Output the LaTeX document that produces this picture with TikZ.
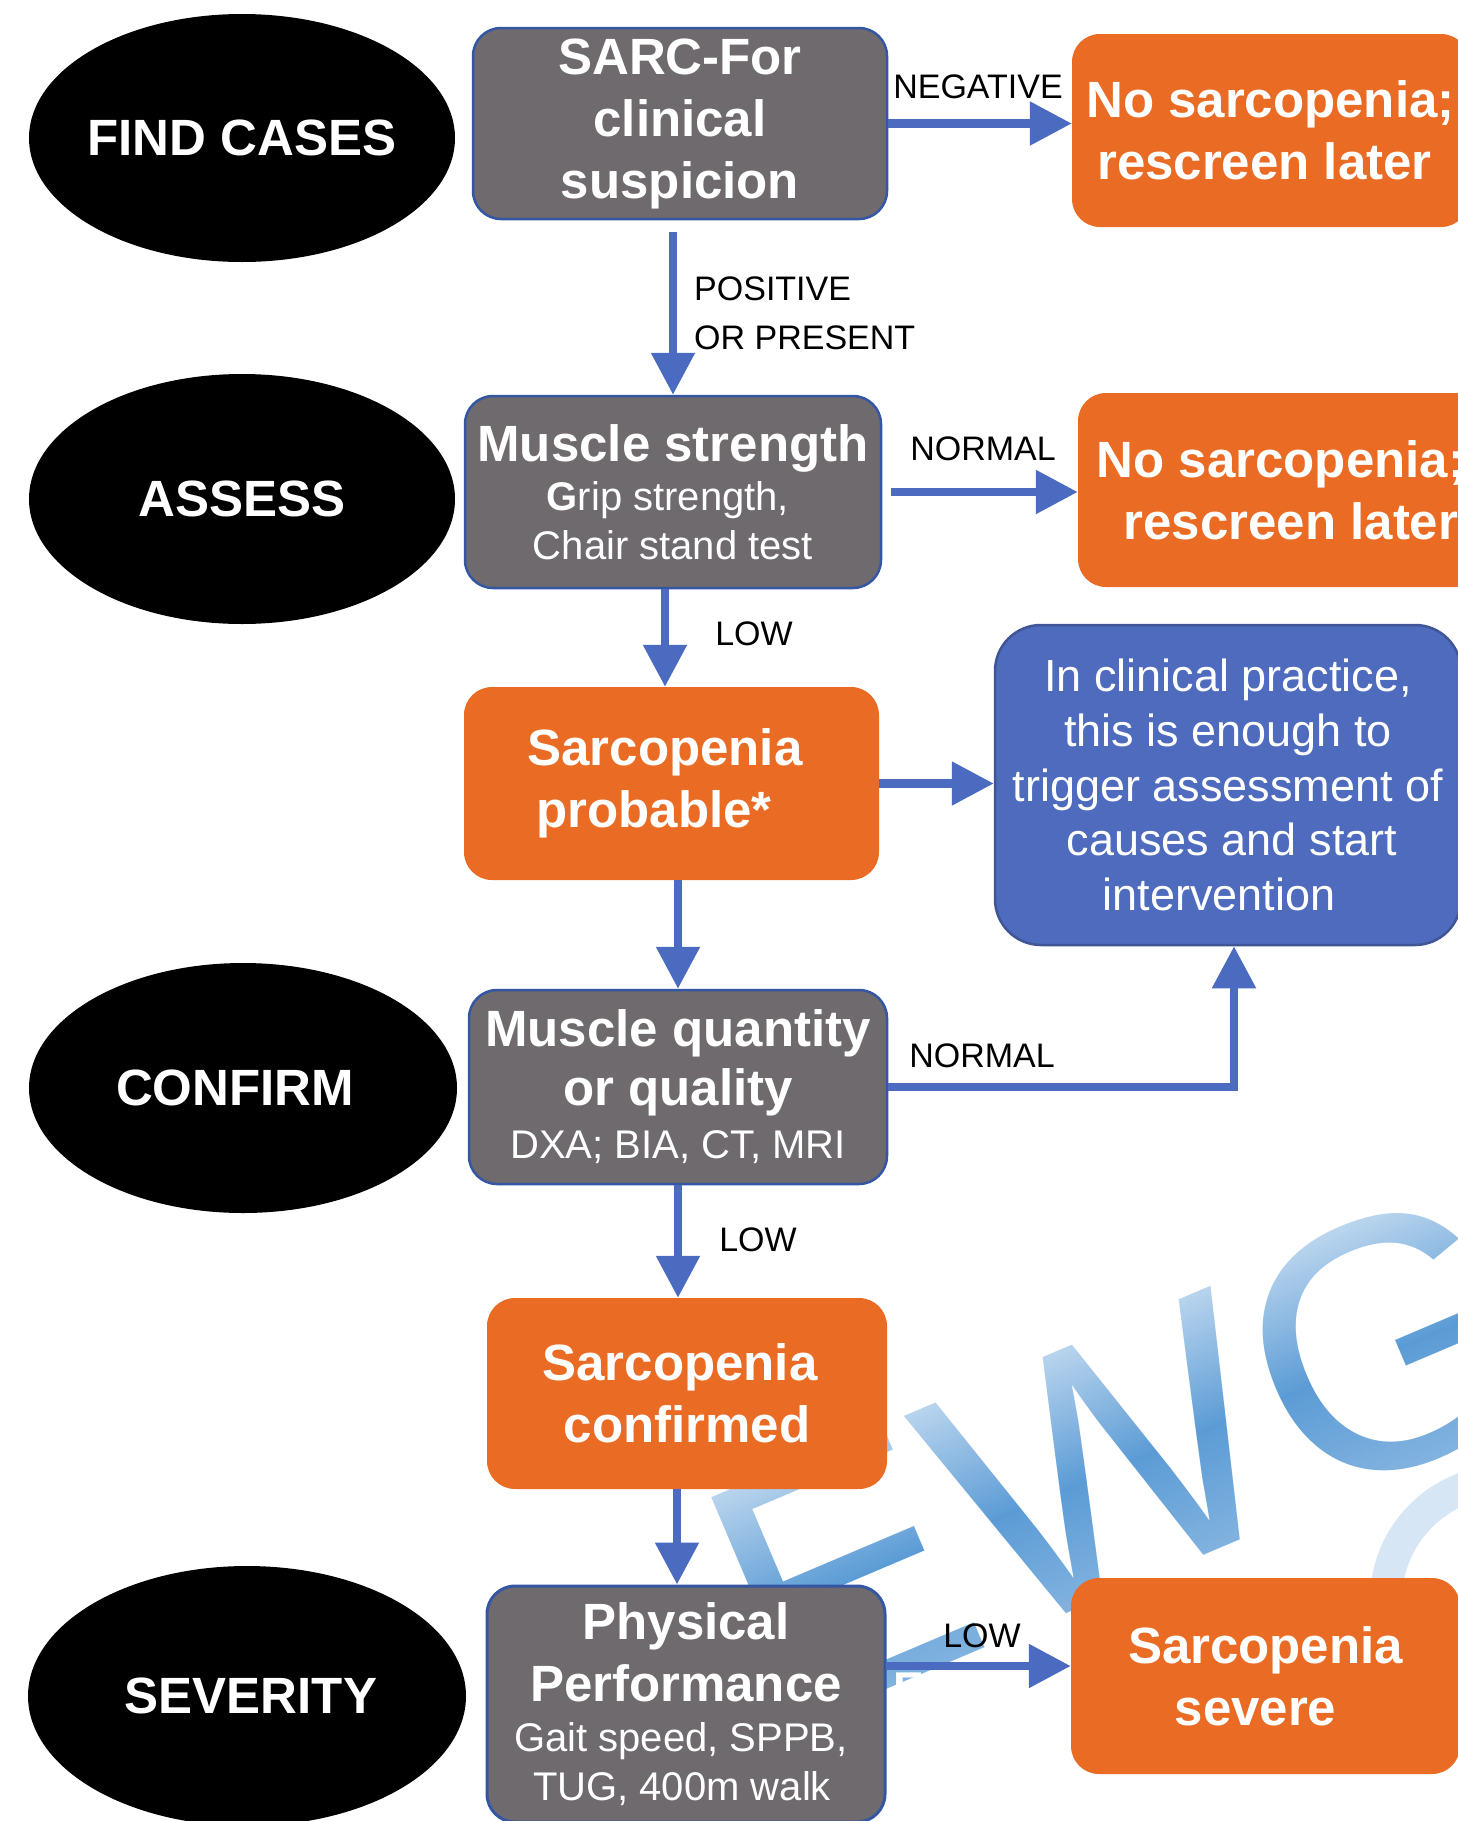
\documentclass[tikz,border=0pt]{standalone}
\usepackage{fontspec}
\setmainfont{Liberation Sans}
\usetikzlibrary{arrows.meta,shapes.geometric}

\definecolor{boxgray}{HTML}{6E6A6E}
\definecolor{flowblue}{HTML}{4A6BBF}
\definecolor{edgeblue}{HTML}{3556A3}
\definecolor{callout}{HTML}{4E6BBD}
\definecolor{calloutedge}{HTML}{3F5596}
\definecolor{outcome}{HTML}{EA6B24}
\definecolor{markdark}{HTML}{5B9BD5}
\definecolor{markpale}{HTML}{D6E6F5}
% screen-blend tints that lighten the lettering towards its top and bottom
\definecolor{tinttop}{gray}{0.67}
\definecolor{tintbottom}{gray}{0.31}

\newcommand\headfont{\fontsize{51}{62}\selectfont\bfseries}
\newcommand\detailfont{\fontsize{40}{49}\selectfont\mdseries}
\newcommand\stagefont{\fontsize{51}{62}\selectfont\bfseries}
\newcommand\notefont{\fontsize{45}{54.7}\selectfont}
\newcommand\labelfont{\fontsize{34}{49}\selectfont}
\newcommand\markfont{\fontsize{356}{400}\selectfont}

\begin{document}
\begin{tikzpicture}[x=1pt, y=-1pt,
  stage/.style={ellipse, fill=black, text=white, font=\stagefont, inner sep=0pt},
  procbox/.style={rectangle, rounded corners=28pt, fill=boxgray, draw=edgeblue,
    line width=2.5pt, text=white, align=center, font=\headfont, inner sep=0pt},
  resultbox/.style={rectangle, rounded corners=28pt, fill=outcome, text=white,
    align=center, font=\headfont, inner sep=0pt},
  notebox/.style={rectangle, rounded corners=46pt, fill=callout, draw=calloutedge,
    line width=2.5pt, text=white, align=center, font=\notefont, inner sep=0pt},
  flow/.style={draw=flowblue, line width=8.5pt, -{Triangle[length=42pt,width=42pt]}},
  lab/.style={font=\labelfont, text=black, inner sep=0pt}]

\useasboundingbox (0,0) rectangle (1458,1821);
\fill[white] (0,0) rectangle (1458,1821);

% logo lettering in the background
\begin{scope}[transform canvas={shift={(780,1735)}, rotate=23}]
  \node[font=\markfont, text=markdark, anchor=base west, inner sep=0pt] (logo) at (0,0) {EWGSOP};
  \shade[blend mode=screen, top color=tinttop, bottom color=tintbottom, middle color=black]
    (-300,-270) rectangle (2400,40);
\end{scope}
\draw[markpale, line width=32pt] (1505,1600) circle[radius=119pt];
\node[font=\fontsize{46}{50}\selectfont\bfseries, text=white, anchor=base west,
  inner sep=0pt] (ghost) at (893,1704) {E};

% stage ellipses
\node[stage, minimum width=426pt, minimum height=248pt] (find) at (242,138) {\makebox[0pt]{FIND CASES}};
\node[stage, minimum width=426pt, minimum height=250pt] (assess) at (242,499) {\makebox[0pt]{ASSESS}};
\node[stage, minimum width=428pt, minimum height=250pt] (confirm) at (243,1088) {\makebox[0pt]{CONFIRM\kern16pt}};
\node[stage, minimum width=438pt, minimum height=260pt] (severity) at (247,1696) {\makebox[0pt]{\kern8pt SEVERITY}};

% pathway boxes
\node[procbox, minimum width=414pt, minimum height=191pt] (sarc) at (680,123.5)
  {SARC-For\\clinical\\suspicion};
\node[resultbox, minimum width=397pt, minimum height=193pt] (clear1) at (1270.5,130.5)
  {No sarcopenia;\\rescreen later\kern12pt};
\node[procbox, minimum width=416pt, minimum height=192pt] (strength) at (673,492)
  {Muscle strength\\[-13pt]{\detailfont\textbf{G}rip strength,\kern10pt}\\[-13pt]{\detailfont Chair stand test}};
\node[resultbox, minimum width=406pt, minimum height=194pt] (clear2) at (1281,490)
  {No sarcopenia;\\\kern20pt rescreen later};
\node[resultbox, minimum width=415pt, minimum height=193pt] (probable) at (671.5,783.5)
  {Sarcopenia\kern13pt\\probable*\kern35pt};
\node[notebox, minimum width=466pt, minimum height=320pt] (practice) at (1228,785)
  {In clinical practice,\\this is enough to\\trigger assessment of\\\kern8pt causes and start\\intervention\kern18pt};
\node[procbox, minimum width=418pt, minimum height=194pt] (quantity) at (678,1087)
  {Muscle quantity\\[-3pt]or quality\\[-9pt]{\detailfont DXA; BIA, CT, MRI}};
\node[resultbox, minimum width=400pt, minimum height=191pt] (confirmed) at (687,1393.5)
  {Sarcopenia\kern14pt\\confirmed};
\node[procbox, minimum width=398pt, minimum height=236pt, line width=3pt] (performance) at (686,1704)
  {Physical\\Performance\\[-12pt]{\detailfont Gait speed, SPPB,\kern10pt}\\[-13pt]{\detailfont TUG, 400m walk\kern8pt}};
\node[resultbox, minimum width=389pt, minimum height=196pt] (severe) at (1265.5,1676)
  {Sarcopenia\\severe\kern20pt};

% connectors
\draw[flow] (sarc.east) -- (sarc.east -| clear1.west);
\draw[flow] ([yshift=-12pt]sarc.south -| strength.north) -- (strength.north);
\draw[flow] ([xshift=9pt]strength.east) -- (strength.east -| clear2.west);
\draw[flow] ([xshift=-8pt]strength.south) -- ([xshift=-8pt]strength.south |- probable.north);
\draw[flow] (probable.east) -- (probable.east -| practice.west);
\draw[flow] (quantity.north |- probable.south) -- (quantity.north);
\draw[flow] (quantity.east) -| ([xshift=6pt]practice.south);
\draw[flow] (quantity.south) -- (quantity.south |- confirmed.north);
\draw[flow] ([xshift=-10pt]confirmed.south) -- ([xshift=-10pt]confirmed.south |- performance.north);
\draw[flow] ([yshift=38pt]performance.east) -- ([yshift=38pt]performance.east -| severe.west);

% connector labels
\node[lab, anchor=base] (neglab) at (978,98) {NEGATIVE};
\node[lab, anchor=north west, align=left] (poslab) at (694,277) {POSITIVE\\OR PRESENT};
\node[lab, anchor=base] (normlab1) at (983,460) {NORMAL};
\node[lab, anchor=base] (lowlab1) at (754,645) {LOW};
\node[lab, anchor=base] (normlab2) at (982,1067) {NORMAL};
\node[lab, anchor=base] (lowlab2) at (758,1251) {LOW};
\node[lab, anchor=base] (lowlab3) at (982,1647) {LOW};
\end{tikzpicture}
\end{document}
